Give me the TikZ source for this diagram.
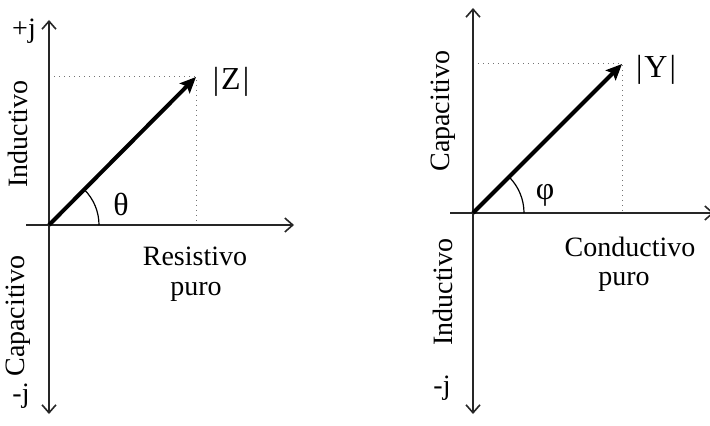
\documentclass[tikz,border=0pt]{standalone}
\usepackage{fontspec}
\setmainfont{Liberation Serif}
\usetikzlibrary{arrows.meta,calc}
\begin{document}
\begin{tikzpicture}[x=0.5pt,y=-0.5pt,
  axis/.style={line width=0.8pt,draw=black!85,{Straight Barb[length=4pt,width=7pt]}-{Straight Barb[length=4pt,width=7pt]}},
  axisr/.style={line width=0.8pt,draw=black!85,-{Straight Barb[length=4pt,width=7pt]}},
  vec/.style={line width=2pt,-{Stealth[length=8pt,width=7pt,inset=1.5pt]}},
  guide/.style={draw=black!55,line width=0.5pt,dotted},
  lbl/.style={font=\fontsize{14pt}{16pt}\selectfont,inner sep=0pt},
  big/.style={font=\fontsize{16pt}{18pt}\selectfont,inner sep=0pt},
  rlbl/.style={lbl,rotate=90}]
\useasboundingbox (0,0) rectangle (710,426);
% ---------- left diagram ----------
\coordinate (O1) at (49,225);
\coordinate (T1) at (49,20);
\coordinate (B1) at (49,414);
\coordinate (L1) at (26,225);
\coordinate (R1) at (294,225);
\coordinate (Z) at (196,77);
\coordinate (ZY) at (49,77);
\coordinate (ZX) at (196,225);
\coordinate (A1) at (99,225);
\draw[guide] (ZY) -- (Z) -- (ZX);
\draw[axis] (B1) -- (T1);
\draw[axisr] (L1) -- (R1);
\draw[vec] (O1) -- (Z);
\draw[line width=0.6pt] (A1) arc[start angle=0,end angle=-45,radius=50];
\node[lbl] (pj) at (24,31) {+j};
\node[lbl] (mj1) at (21,396) {-j};
\node[rlbl] (ind1) at (18,134) {Inductivo};
\node[rlbl] (cap1) at (18,316) {Capacitivo};
\node[big] (zl) at (231,82) {|\kern1pt Z\kern1pt|};
\node[big] (th) at (121,204) {θ};
\node[lbl] (res) at (195,256) {Resistivo};
\node[lbl] (pu1) at (196,292) {puro};
% ---------- right diagram ----------
\coordinate (O2) at (473,213);
\coordinate (T2) at (473,8);
\coordinate (B2) at (473,414);
\coordinate (L2) at (450,213);
\coordinate (R2) at (714,213);
\coordinate (Y) at (622,64);
\coordinate (YY) at (473,64);
\coordinate (YX) at (622,213);
\coordinate (A2) at (524,213);
\draw[guide] (YY) -- (Y) -- (YX);
\draw[axis] (B2) -- (T2);
\draw[axisr] (L2) -- (R2);
\draw[vec] (O2) -- (Y);
\draw[line width=0.6pt] (A2) arc[start angle=0,end angle=-45,radius=51];
\node[lbl] (mj2) at (442,388) {-j};
\node[rlbl] (cap2) at (443,111) {Capacitivo};
\node[rlbl] (ind2) at (443,292) {Inductivo};
\node[big] (yl) at (656,70) {|\kern1pt Y\kern1pt|};
\node[big] (ph) at (545,195) {φ};
\node[lbl] (con) at (630,247) {Conductivo};
\node[lbl] (pu2) at (624,282) {puro};
\end{tikzpicture}
\end{document}
